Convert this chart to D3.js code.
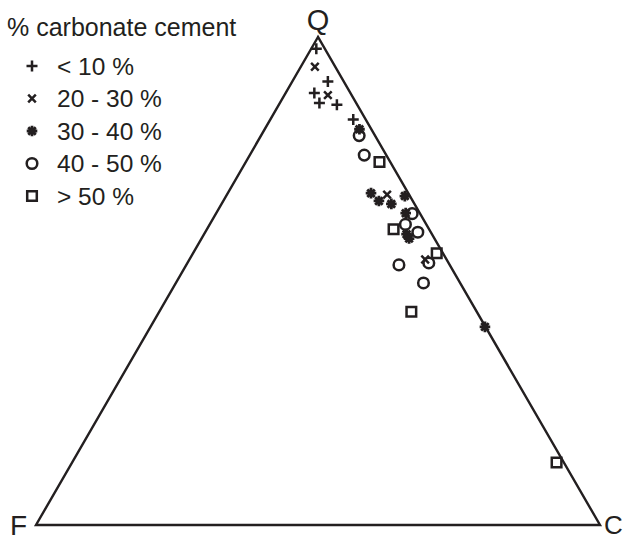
<!DOCTYPE html>
<html>
<head>
<meta charset="utf-8">
<script src="https://cdn.jsdelivr.net/npm/d3@7"></script>
<style>
  body { margin: 0; background: #fff; }
  svg text { font-family: "Liberation Sans", Arial, sans-serif; fill: #231f20; }
</style>
</head>
<body>
<div id="chart"></div>
<script>

WIDTH = 628;
HEIGHT = 540;

// ternary data, percentages [Q, F, C]

var groups = [ "< 10 %", "20 - 30 %", "30 - 40 %", "40 - 50 %", "> 50 %" ];
var symbols = [ "plus", "cross", "star", "circle", "square" ];

var lt10 = [
    [97.6, 1.5, 0.9], [90.9, 2.8, 6.3], [88.5, 6.4, 5.1],
    [86.5, 6.5, 7.0], [86.1, 3.6, 10.3], [83.1, 2.2, 14.7]
];
var p20_30 = [
    [93.9, 3.6, 2.5], [88.1, 4.2, 7.7], [67.7, 3.9, 28.4], [54.4, 3.8, 41.8]
];
var p30_40 = [
    [81.1, 2.1, 16.8], [68.0, 6.6, 25.4], [66.4, 6.0, 27.6],
    [65.8, 4.1, 30.1], [67.4, 0.9, 31.7], [63.9, 2.5, 33.6],
    [59.6, 4.5, 35.9], [58.7, 4.5, 36.8], [40.6, 0.1, 59.3]
];
var p40_50 = [
    [79.8, 2.8, 17.4], [75.8, 3.9, 20.3], [63.8, 1.4, 34.8],
    [61.6, 3.7, 34.7], [60.0, 2.3, 37.7], [53.7, 3.5, 42.8],
    [53.3, 9.0, 37.7], [49.6, 6.5, 43.9]
];
var gt50 = [
    [74.4, 1.9, 23.7], [60.6, 6.3, 33.1], [55.7, 1.1, 43.2],
    [43.7, 11.6, 44.7], [12.8, 1.3, 85.9]
];

var series = [ lt10, p20_30, p30_40, p40_50, gt50 ];

var INK = "#231f20";

var svg = d3.select("#chart").append("svg")
    .attr("width", WIDTH)
    .attr("height", HEIGHT);

// base runs F -> C, height runs base -> Q apex
var xs = d3.scaleLinear().domain([0, 100]).range([36, 600]);
var ys = d3.scaleLinear().domain([0, 100]).range([525, 37]);

function px(d) { return xs(d[2] + d[0] / 2); }
function py(d) { return ys(d[0]); }

var corners = [ [100, 0, 0], [0, 100, 0], [0, 0, 100] ];

svg.append("path")
    .attr("d", "M" + corners.map(function (d) { return [px(d), py(d)]; }).join("L") + "Z")
    .attr("fill", "none")
    .attr("stroke", INK)
    .attr("stroke-width", 2.4)
    .attr("stroke-linejoin", "miter");

// corner labels
svg.append("text").attr("x", px(corners[0])).attr("y", 30)
    .attr("text-anchor", "middle").attr("font-size", 29).text("Q");
svg.append("text").attr("x", px(corners[1]) - 9).attr("y", 535)
    .attr("text-anchor", "end").attr("font-size", 28).text("F");
svg.append("text").attr("x", px(corners[2]) + 4).attr("y", 534)
    .attr("font-size", 26).text("C");

function symbolPath(kind) {
    if (kind == "plus") return "M-5.5,0H5.5M0,-5.5V5.5";
    if (kind == "cross") return "M-3.8,-3.8L3.8,3.8M-3.8,3.8L3.8,-3.8";
    if (kind == "star") {
        var s = "";
        for (var i = 0; i < 4; i++) {
            var a = i * Math.PI / 4;
            var dx = 5.3 * Math.cos(a), dy = 5.3 * Math.sin(a);
            s += "M" + (-dx) + "," + (-dy) + "L" + dx + "," + dy;
        }
        return s;
    }
    if (kind == "circle") return "M5.3,0A5.3,5.3 0 1,1 -5.3,0A5.3,5.3 0 1,1 5.3,0Z";
    return "M-4.8,-4.8H4.8V4.8H-4.8Z";
}

function drawSymbol(g, kind) {
    g.append("path")
        .attr("d", symbolPath(kind))
        .attr("fill", kind == "star" ? INK : "none")
        .attr("stroke", INK)
        .attr("stroke-width", kind == "star" ? 2.8 : 2.5);
    if (kind == "star") {
        g.append("circle").attr("r", 3).attr("fill", INK);
    }
}

series.forEach(function (data, i) {
    svg.append("g").selectAll("g")
        .data(data).enter()
        .append("g")
        .attr("transform", function (d) { return "translate(" + px(d) + "," + py(d) + ")"; })
        .each(function () { drawSymbol(d3.select(this), symbols[i]); });
});

// legend
var legend = svg.append("g");
legend.append("text").attr("x", 7).attr("y", 36)
    .attr("font-size", 25).text("% carbonate cement");

groups.forEach(function (name, i) {
    var cy = 66 + i * 32.5;
    var g = legend.append("g").attr("transform", "translate(32," + cy + ")");
    drawSymbol(g, symbols[i]);
    legend.append("text").attr("x", 57).attr("y", cy + 8.5)
        .attr("font-size", 24.5).text(name);
});

</script>
</body>
</html>
